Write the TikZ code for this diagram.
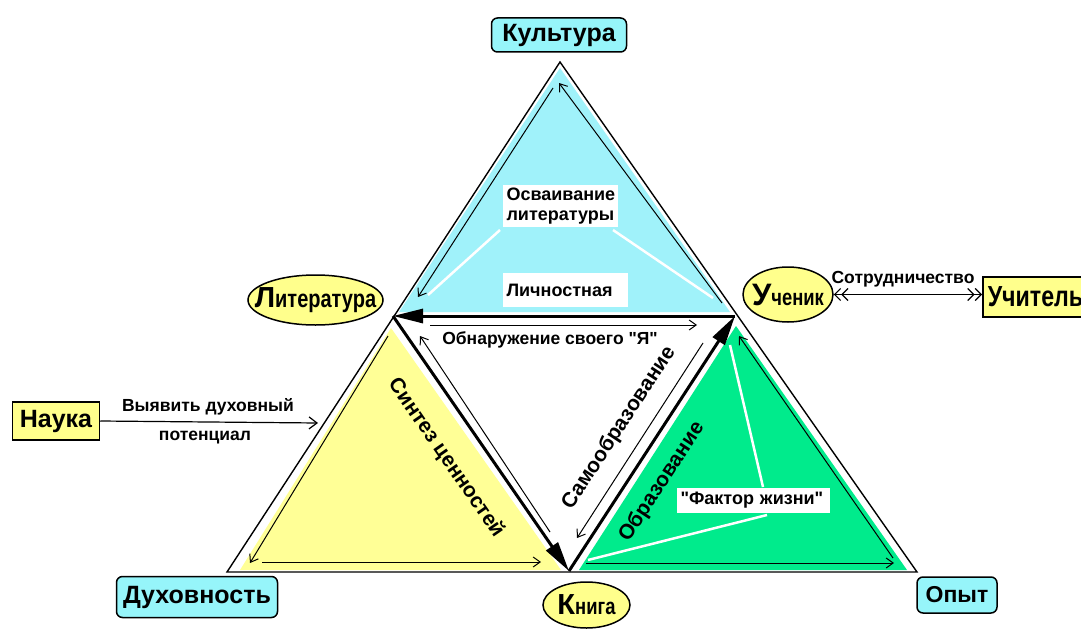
\documentclass[tikz,border=0pt]{standalone}
\usepackage{fontspec}
\setmainfont{Liberation Sans}[Ligatures=TeXOff]
\newfontfamily\narrowfont{Liberation Sans}[FakeStretch=0.8,Ligatures=TeXOff]
\usetikzlibrary{arrows.meta,shapes.geometric}
\definecolor{cyanfill}{RGB}{160,242,250}
\definecolor{cyanlab}{RGB}{150,245,250}
\definecolor{yellowfill}{RGB}{255,255,150}
\definecolor{yellowlab}{RGB}{255,255,140}
\definecolor{greenfill}{RGB}{0,235,140}
\tikzset{
  tri/.style={draw=black, line width=1.4pt},
  thinarrow/.style={line width=1pt, -{Straight Barb[length=7pt,width=10pt]}},
  thickarrow/.style={line width=3pt, -{Triangle[length=30pt,width=14pt]}},
  wline/.style={white, line width=2.5pt},
  lbl/.style={font=\bfseries\fontsize{17.5}{19}\selectfont, inner sep=0pt},
  wbox/.style={fill=white, font=\bfseries\fontsize{18}{20}\selectfont, align=left, inner xsep=4pt, inner ysep=2pt},
  rotlbl/.style={font=\bfseries\fontsize{21}{21}\selectfont, inner sep=0pt},
  cbox/.style={draw=black, line width=1.5pt, fill=cyanlab, rounded corners=6pt, font=\bfseries\fontsize{25}{25}\selectfont, inner sep=0pt},
  ybox/.style={draw=black, line width=1.5pt, fill=yellowlab, font=\bfseries\fontsize{25}{25}\selectfont, inner sep=0pt},
  yell/.style={ellipse, draw=black, line width=1.5pt, fill=yellowlab, inner sep=0pt},
  elltext/.style={inner sep=0pt, font=\bfseries}
}
\begin{document}
\begin{tikzpicture}[x=1pt,y=-1pt]
\useasboundingbox (0,0) rectangle (1081,634);
\clip (0,0) rectangle (1081,634);
\fill[white] (0,0) rectangle (1081,634);

% vertices
\coordinate (A) at (560,62);
\coordinate (D) at (227,572);
\coordinate (O) at (917,572);
\coordinate (L) at (393,316);
\coordinate (U) at (735,316);
\coordinate (K) at (569,571);

% fills
\fill[cyanfill] (560,68) -- (399,312) -- (730,312) -- cycle;
\fill[yellowfill] (391,328) -- (240,570) -- (561,570) -- cycle;
\fill[greenfill] (736,326) -- (579,570) -- (907,570) -- cycle;

% white decorative lines
\draw[wline] (428,295) -- (500,230);
\draw[wline] (613,230) -- (713,298);
\draw[wline] (730,345) -- (763,487);
\draw[wline] (767,515) -- (588,560);

% outer triangle
\draw[tri] (A) -- (D) -- (O) -- cycle;

% thick arrows (inner triangle)
\draw[thickarrow] (U) -- (L);
\draw[thickarrow] (L) -- (K);
\draw[thickarrow] (K) -- (U);

% thin arrows
\coordinate (h1) at (430,325); \coordinate (h2) at (697,325);
\coordinate (l1) at (550,532); \coordinate (l2) at (420,336);
\coordinate (r1) at (703,343); \coordinate (r2) at (577,538);
\coordinate (t1) at (553,88);  \coordinate (t2) at (418,297);
\coordinate (t3) at (722,303); \coordinate (t4) at (559,83);
\coordinate (y1) at (388,336); \coordinate (y2) at (250,563);
\coordinate (y3) at (262,562); \coordinate (y4) at (541,562);
\coordinate (g1) at (586,563); \coordinate (g2) at (894,563);
\coordinate (g3) at (893,558); \coordinate (g4) at (739,336);
\draw[thinarrow] (h1) -- (h2);
\draw[thinarrow] (l1) -- (l2);
\draw[thinarrow] (r1) -- (r2);
\draw[thinarrow] (t1) -- (t2);
\draw[thinarrow] (t3) -- (t4);
\draw[thinarrow] (y1) -- (y2);
\draw[thinarrow] (y3) -- (y4);
\draw[thinarrow] (g1) -- (g2);
\draw[thinarrow] (g3) -- (g4);

% inner texts
\node[wbox, text width=107pt, minimum height=42pt] (osv) at (560,206) {Осваивание\\литературы};
\node[wbox, text width=117pt, minimum height=34pt] (lich) at (565,290) {Личностная};
\node[wbox, text width=145pt, minimum height=25pt] (fakt) at (753,500) {"Фактор жизни"};
\node[lbl] (obn) at (550,340) {Обнаружение своего "Я"};
\node[rotlbl, rotate=-55.3] (sint) at (446,458) {Синтез ценностей};
\node[rotlbl, rotate=56.8] (samo) at (619,428) {Самообразование};
\node[rotlbl, rotate=56.8] (obr) at (662,482) {Образование};

% labels
\node[cbox, minimum width=135pt, minimum height=34pt] (kult) at (559,35) {Культура};
\node[cbox, minimum width=161pt, minimum height=41pt] (duh) at (197,597) {Духовность};
\node[cbox, minimum width=80pt, minimum height=36pt, font=\bfseries\fontsize{23}{23}\selectfont] (opyt) at (957,595) {Опыт};
\node[ybox, minimum width=87pt, minimum height=38pt] (nauka) at (56,421) {Наука};
\node[ybox, anchor=west, minimum height=40pt, inner xsep=5pt, font=\narrowfont\bfseries\fontsize{29}{29}\selectfont] (uchit) at (982,297) {Учитель};

\node[yell, minimum width=135pt, minimum height=50pt] (lit) at (315.5,300) {};
\node[elltext] (littext) at (lit.center)
  {{\fontsize{29}{29}\selectfont Л}{\narrowfont\bfseries\fontsize{25}{25}\selectfont итература}};
\node[yell, minimum width=90pt, minimum height=55pt] (uch) at (788,294.5) {};
\node[elltext] (uchtext) at (uch.center)
  {{\fontsize{31}{31}\selectfont У}{\narrowfont\bfseries\fontsize{23}{23}\selectfont ченик}};
\node[yell, minimum width=87pt, minimum height=46pt] (kniga) at (586.5,605) {};
\node[elltext] (knigatext) at (kniga.center)
  {{\fontsize{29}{29}\selectfont К}{\narrowfont\bfseries\fontsize{23}{23}\selectfont нига}};

% side connectors
\coordinate (nt) at (318,423);
\draw[line width=1.2pt, -{Straight Barb[length=8pt,width=12pt]}] (nauka.east) -- (nt);
\node[lbl] (vyav) at (208,407) {Выявить духовный};
\node[lbl] (pot) at (205,438) {потенциал};
\draw[line width=1.2pt, {Straight Barb[length=6pt,width=12pt] Straight Barb[length=6pt,width=12pt]}-{Straight Barb[length=6pt,width=12pt] Straight Barb[length=6pt,width=12pt]}] (uch.east) -- (uch.east -| uchit.west);
\node[lbl] (sotr) at (903,279) {Сотрудничество};
\end{tikzpicture}
\end{document}
